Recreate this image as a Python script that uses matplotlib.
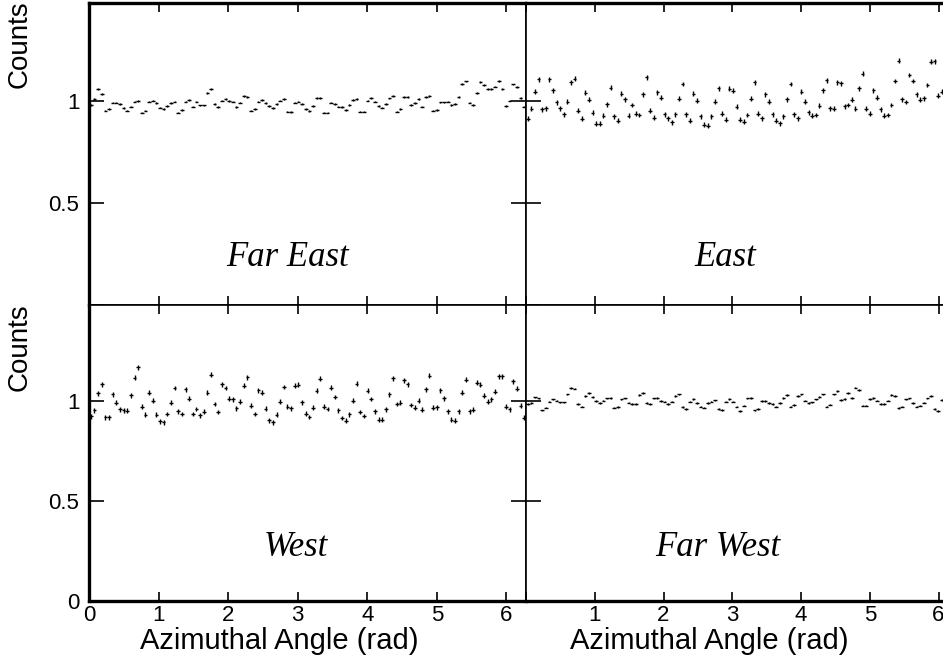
import numpy as np
import matplotlib
matplotlib.use("Agg")
import matplotlib.pyplot as plt

# 120 azimuthal bins over 0..2pi
n_bins = 120
far_east = [0.98, 1.01, 1.06, 1.035, 0.953, 0.959, 0.992, 0.992, 0.984, 0.964,
            0.953, 0.972, 0.997, 1.0, 0.943, 0.953, 0.997, 1.002, 0.989, 0.967,
            0.959, 0.976, 0.989, 0.997, 0.943, 0.956, 0.997, 1.005, 0.972, 0.997,
            0.978, 0.978, 1.038, 1.059, 0.984, 0.969, 1.002, 1.01, 1.0, 0.997,
            0.969, 0.992, 1.024, 1.018, 0.953, 0.959, 0.997, 1.005, 0.989, 0.976,
            0.964, 0.985, 1.002, 1.01, 0.948, 0.945, 0.992, 0.997, 0.985, 0.959,
            0.952, 0.975, 1.015, 1.015, 0.943, 0.943, 0.992, 0.985, 0.972, 0.969,
            0.956, 0.98, 1.005, 1.008, 0.948, 0.948, 1.002, 1.015, 0.997, 0.976,
            0.967, 0.985, 1.012, 1.025, 0.948, 0.961, 1.018, 1.02, 0.98, 0.989,
            1.008, 0.972, 1.02, 1.025, 0.953, 0.956, 0.993, 0.993, 0.997, 0.98,
            0.984, 1.018, 1.083, 1.096, 0.992, 0.98, 1.04, 1.094, 1.078, 1.059,
            1.059, 1.07, 1.099, 1.059, 0.975, 1.002, 1.081, 1.067, 1.015, 0.972]
east = [0.912, 0.961, 1.046, 1.106, 0.959, 0.964, 1.106, 1.052, 0.993, 0.964,
        0.935, 0.997, 1.091, 1.109, 0.951, 0.912, 1.041, 1.005, 0.943, 0.888,
        0.888, 0.928, 0.984, 1.065, 0.925, 0.904, 1.036, 1.008, 0.927, 0.98,
        0.937, 0.931, 1.033, 1.116, 0.951, 0.918, 1.042, 1.015, 0.935, 0.915,
        0.896, 0.935, 1.011, 1.083, 0.935, 0.902, 1.036, 1.002, 0.925, 0.884,
        0.878, 0.925, 0.997, 1.062, 0.937, 0.909, 1.059, 1.049, 0.971, 0.909,
        0.899, 0.931, 1.011, 1.091, 0.937, 0.915, 1.033, 0.997, 0.935, 0.904,
        0.891, 0.925, 1.008, 1.083, 0.935, 0.915, 1.046, 0.997, 0.945, 0.928,
        0.931, 0.976, 1.052, 1.101, 0.964, 0.962, 1.091, 1.086, 0.974, 0.98,
        1.005, 0.962, 1.062, 1.134, 0.961, 0.937, 1.052, 1.016, 0.959, 0.927,
        0.931, 0.98, 1.098, 1.197, 1.008, 0.995, 1.127, 1.098, 1.033, 1.005,
        1.013, 1.078, 1.192, 1.195, 1.026, 1.046, 1.179, 1.098, 0.962, 1.0]
west = [0.923, 0.953, 1.038, 1.083, 0.918, 0.918, 1.033, 0.992, 0.959, 0.954,
        0.951, 1.028, 1.116, 1.168, 0.971, 0.931, 1.042, 1.002, 0.932, 0.899,
        0.894, 0.935, 0.992, 1.065, 0.948, 0.935, 1.059, 1.011, 0.935, 0.96,
        0.928, 0.946, 1.042, 1.132, 0.985, 0.945, 1.083, 1.065, 1.011, 1.008,
        0.964, 0.997, 1.077, 1.119, 0.976, 0.935, 1.054, 1.042, 0.962, 0.904,
        0.894, 0.931, 0.997, 1.07, 0.972, 0.964, 1.077, 1.082, 0.993, 0.937,
        0.92, 0.967, 1.052, 1.111, 0.972, 0.96, 1.067, 1.02, 0.954, 0.915,
        0.901, 0.933, 1.002, 1.087, 0.945, 0.925, 1.052, 1.01, 0.948, 0.906,
        0.907, 0.959, 1.033, 1.114, 0.985, 0.992, 1.103, 1.083, 0.98, 0.967,
        1.002, 0.956, 1.059, 1.127, 0.967, 0.969, 1.054, 1.013, 0.948, 0.906,
        0.901, 0.948, 1.042, 1.106, 0.948, 0.956, 1.091, 1.082, 1.026, 0.997,
        1.008, 1.046, 1.124, 1.124, 0.971, 0.959, 1.098, 1.062, 0.977, 0.917]
far_west = [0.984, 0.989, 1.018, 1.013, 0.953, 0.967, 0.997, 1.008, 1.002, 0.993,
            0.993, 1.033, 1.065, 1.062, 0.984, 0.972, 1.026, 1.041, 1.021, 1.0,
            0.989, 1.002, 1.013, 1.016, 0.967, 0.969, 1.008, 1.013, 0.992, 0.985,
            0.984, 1.029, 1.041, 0.989, 0.985, 1.013, 1.016, 1.0, 0.997, 0.985,
            0.997, 1.025, 1.033, 0.969, 0.961, 0.997, 1.01, 0.989, 0.972, 0.967,
            0.989, 0.997, 1.003, 0.961, 0.956, 0.997, 1.011, 0.997, 0.972, 0.951,
            0.977, 1.013, 1.016, 0.953, 0.959, 1.0, 1.0, 0.989, 0.985, 0.972,
            0.989, 1.016, 1.029, 0.972, 0.979, 1.026, 1.033, 1.002, 0.989, 0.993,
            1.008, 1.021, 1.033, 0.972, 0.982, 1.033, 1.049, 1.005, 1.011, 1.041,
            1.016, 1.067, 1.054, 0.977, 0.977, 1.01, 1.016, 1.002, 0.985, 0.985,
            1.002, 1.029, 1.026, 0.964, 0.972, 1.008, 1.013, 0.989, 0.972, 0.977,
            0.992, 1.013, 1.025, 0.959, 0.951, 1.005, 1.0, 0.993, 0.99, 1.0]
err_small = 0.004   # far east / far west
err_big = 0.012     # east / west

panel_names = ["Far East", "East", "West", "Far West"]
panel_data = [far_east, east, west, far_west]
panel_err = [err_small, err_big, err_big, err_small]

x_ticks = [0, 1, 2, 3, 4, 5, 6]
y_ticks = [0, 0.5, 1]

edges = np.linspace(0, 2 * np.pi, n_bins + 1)
centers = 0.5 * (edges[:-1] + edges[1:])
half_w = 0.5 * (edges[1] - edges[0])

W, H = 943, 668
fig = plt.figure(figsize=(W / 100, H / 100), dpi=100)
plt.rcParams['font.family'] = ['Liberation Sans', 'DejaVu Sans']

def px_axes(x0, y0, x1, y1):
    # pixel box (top-left origin) -> figure axes
    return fig.add_axes([x0 / W, 1 - y1 / H, (x1 - x0) / W, (y1 - y0) / H])

boxes = [(89, 3, 526, 305), (526, 3, 958, 305),
         (89, 305, 526, 601), (526, 305, 958, 601)]
label_pos = [(287, 258), (725, 258), (296, 548), (718, 548)]

for i, (box, name, vals, err) in enumerate(zip(boxes, panel_names, panel_data, panel_err)):
    ax = px_axes(*box)
    ax.errorbar(centers, vals, xerr=half_w, yerr=err, fmt='none',
                ecolor='black', elinewidth=1.0, capsize=0)
    ax.set_xlim(0, 2 * np.pi)
    ax.set_ylim(0, 1.48)
    ax.set_xticks(x_ticks)
    ax.set_yticks(y_ticks)
    ax.tick_params(direction='in', top=True, right=True, width=1.2, labelsize=16)
    ax.tick_params(axis='x', length=6.5, pad=3)
    ax.tick_params(axis='y', length=11, pad=7)
    for s in ax.spines.values():
        s.set_linewidth(1.2)
    left = i % 2 == 0
    top = i < 2
    if left:
        ax.spines['left'].set_linewidth(2.4)
        ax.set_yticklabels(['', '0.5', '1'] if top else ['0', '0.5', '1'])
    else:
        ax.set_yticklabels([])
    if top:
        ax.spines['top'].set_linewidth(2.4)
        ax.set_xticklabels([])
    else:
        ax.spines['bottom'].set_linewidth(2.4)
        ax.set_xticklabels([str(t) if (left or t > 0) else '' for t in x_ticks])
    lx, ly = label_pos[i]
    fig.text(lx / W, 1 - ly / H, name, ha='center', va='center', fontsize=25,
             fontstyle='italic', family=['Liberation Serif', 'DejaVu Serif'])

for y_top in (0, 303):
    fig.text(20 / W, 1 - y_top / H, 'Counts', rotation=90, ha='center', va='top', fontsize=20)
for cx in (279, 709):
    fig.text(cx / W, 1 - 641 / H, 'Azimuthal Angle (rad)', ha='center', va='center', fontsize=21)

fig.savefig('out.png', dpi=100)
